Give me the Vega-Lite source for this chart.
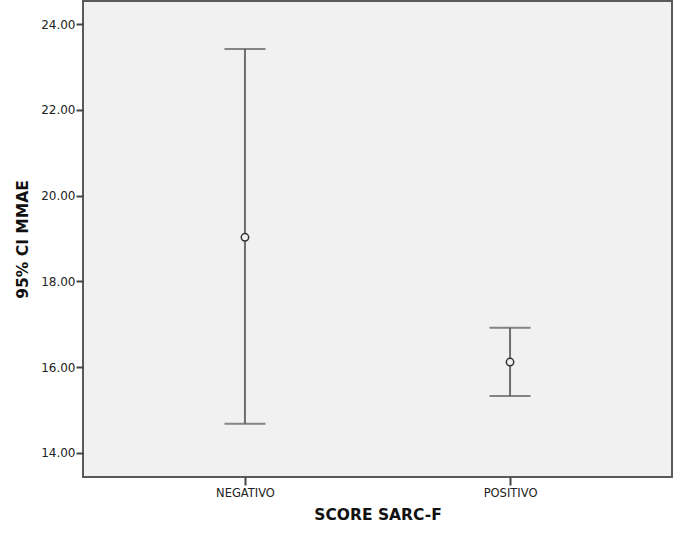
{
  "$schema": "https://vega.github.io/schema/vega-lite/v6.json",
  "autosize": {"type": "none"},
  "width": 589,
  "height": 476,
  "padding": {"left": 83, "top": 1, "right": 7, "bottom": 61},
  "background": "white",
  "config": {
    "view": {"fill": "#f1f1f1", "stroke": "#5a5a5a", "strokeWidth": 2},
    "font": "DejaVu Sans"
  },
  "data": {
    "values": [
      {"group": "NEGATIVO", "lower": 14.68, "mean": 19.03, "upper": 23.42},
      {"group": "POSITIVO", "lower": 15.33, "mean": 16.12, "upper": 16.92}
    ]
  },
  "encoding": {
    "x": {
      "field": "group",
      "type": "nominal",
      "scale": {"type": "point", "padding": 0.611},
      "axis": {
        "title": "SCORE SARC-F",
        "titleFontSize": 15.5,
        "titleFontWeight": "bold",
        "titleColor": "#111",
        "titlePadding": 9,
        "labelAngle": 0,
        "labelFontSize": 11.5,
        "labelColor": "#222",
        "labelPadding": 2,
        "tickSize": 8,
        "tickColor": "#444",
        "tickWidth": 2,
        "domain": false,
        "grid": false
      }
    }
  },
  "layer": [
    {
      "mark": {"type": "rule", "color": "#6e6e6e", "strokeWidth": 2},
      "encoding": {
        "y": {
          "field": "lower",
          "type": "quantitative",
          "scale": {"domain": [13.44, 24.54], "nice": false, "zero": false},
          "axis": {
            "title": "95% CI MMAE",
            "titleFontSize": 15.5,
            "titleFontWeight": "bold",
            "titleColor": "#111",
            "titlePadding": 10,
            "values": [14, 16, 18, 20, 22, 24],
            "format": ".2f",
            "labelFontSize": 12,
            "labelColor": "#222",
            "labelPadding": 1,
            "tickSize": 7,
            "tickColor": "#444",
            "tickWidth": 2,
            "domain": false,
            "grid": false
          }
        },
        "y2": {"field": "upper"}
      }
    },
    {
      "mark": {"type": "tick", "color": "#555", "thickness": 2, "size": 41},
      "encoding": {"y": {"field": "upper", "type": "quantitative"}}
    },
    {
      "mark": {"type": "tick", "color": "#555", "thickness": 2, "size": 41},
      "encoding": {"y": {"field": "lower", "type": "quantitative"}}
    },
    {
      "mark": {"type": "point", "shape": "circle", "filled": false, "size": 55, "stroke": "#333", "strokeWidth": 1.5, "fill": "#f1f1f1", "opacity": 1},
      "encoding": {"y": {"field": "mean", "type": "quantitative"}}
    }
  ]
}
